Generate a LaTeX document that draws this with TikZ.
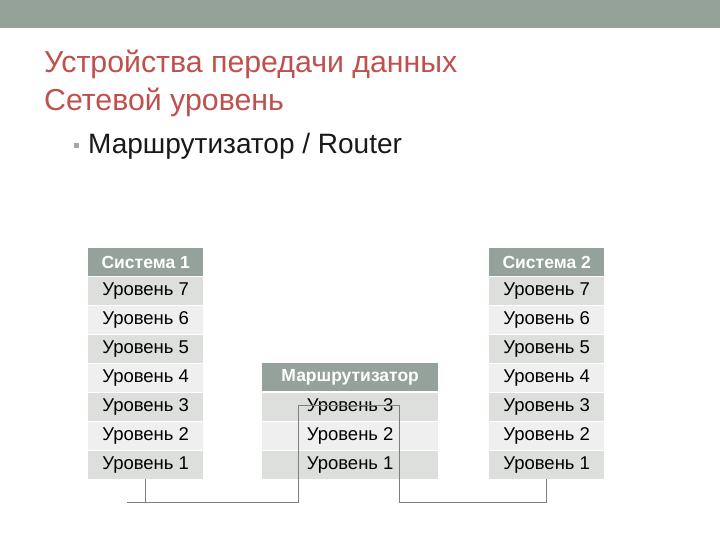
\documentclass[tikz,border=0pt]{standalone}
\usepackage{fontspec}
\setmainfont{Liberation Sans}
\definecolor{band}{HTML}{95A298}
\definecolor{titlered}{HTML}{C0504D}
\definecolor{hdr}{HTML}{95A29B}
\definecolor{rowdark}{HTML}{DCDFDC}
\definecolor{rowlight}{HTML}{EFEFEF}
\definecolor{wire}{HTML}{7F7F7F}
\tikzset{
  cell/.style={anchor=north west, inner sep=0pt, minimum height=28pt, text=black, font=\fontsize{18.5}{21}\selectfont},
  syscell/.style={cell, minimum width=115pt},
  rtcell/.style={cell, minimum width=176pt},
  hdrcell/.style={text=white, fill=hdr, font=\bfseries\fontsize{17.5}{20}\selectfont},
  dk/.style={fill=rowdark},
  lt/.style={fill=rowlight},
  wireline/.style={draw=wire, line width=1pt},
}
\begin{document}
\begin{tikzpicture}[x=1pt,y=-1pt]
\useasboundingbox (0,0) rectangle (720,540);
\fill[band] (0,0) rectangle (720,28);
\node[anchor=base west, inner sep=0pt, text=titlered, font=\fontsize{30.3}{36}\selectfont] (t1) at (44,73) {Устройства передачи данных};
\node[anchor=base west, inner sep=0pt, text=titlered, font=\fontsize{30.3}{36}\selectfont] (t2) at (44,111) {Сетевой уровень};
\node[fill=gray!70, inner sep=0pt, minimum size=4.5pt] (bul) at (76.5,145.5) {};
\node[anchor=base west, inner sep=0pt, text=black!90, font=\fontsize{28}{32}\selectfont] (b1) at (88,154) {Маршрутизатор / Router};
% System 1
\node[syscell, hdrcell] (Lh) at (88,248) {Система 1};
\node[syscell, dk] (L7) at (88,277) {Уровень 7};
\node[syscell, lt] (L6) at (88,306) {Уровень 6};
\node[syscell, dk] (L5) at (88,335) {Уровень 5};
\node[syscell, lt] (L4) at (88,364) {Уровень 4};
\node[syscell, dk] (L3) at (88,393) {Уровень 3};
\node[syscell, lt] (L2) at (88,422) {Уровень 2};
\node[syscell, dk] (L1) at (88,451) {Уровень 1};
% System 2
\node[syscell, hdrcell] (Rh) at (489,248) {Система 2};
\node[syscell, dk] (R7) at (489,277) {Уровень 7};
\node[syscell, lt] (R6) at (489,306) {Уровень 6};
\node[syscell, dk] (R5) at (489,335) {Уровень 5};
\node[syscell, lt] (R4) at (489,364) {Уровень 4};
\node[syscell, dk] (R3) at (489,393) {Уровень 3};
\node[syscell, lt] (R2) at (489,422) {Уровень 2};
\node[syscell, dk] (R1) at (489,451) {Уровень 1};
% Router
\node[rtcell, hdrcell] (Mh) at (262,363) {Маршрутизатор};
\node[rtcell, dk] (M3) at (262,393) {Уровень 3};
\node[rtcell, lt] (M2) at (262,422) {Уровень 2};
\node[rtcell, dk] (M1) at (262,451) {Уровень 1};
% wiring
\coordinate (lnet) at (127,502);
\coordinate (rnet) at (567,502);
\coordinate (ra) at (298,405);
\coordinate (rb) at (399,405);
\draw[wireline] (L1.south) -- (L1.south |- lnet);
\draw[wireline] (R1.south) -- (R1.south |- rnet);
\draw[wireline] (lnet) -- (ra |- lnet) -- (ra) -- (rb) -- (rb |- rnet) -- (R1.south |- rnet);
\end{tikzpicture}
\end{document}
